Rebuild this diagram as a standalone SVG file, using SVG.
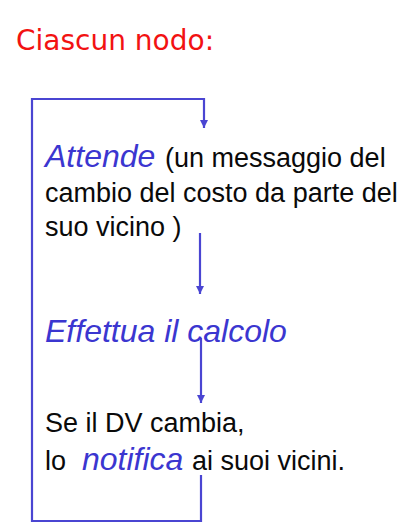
<svg xmlns="http://www.w3.org/2000/svg" width="412" height="531" viewBox="0 0 412 531">
<style>
.t{font-family:"Liberation Sans",Arial,sans-serif;font-size:27px;fill:#0a0a0a}
.em{font-style:italic;font-size:32px;fill:#3b36d0}
.title{font-family:"DejaVu Sans",sans-serif;font-size:28px;fill:#f21212}
.c{fill:none;stroke:#4a45d2;stroke-width:2.2}
</style>
<defs>
<marker id="ah" markerUnits="userSpaceOnUse" markerWidth="10" markerHeight="10" refX="8" refY="4" orient="auto">
<path d="M0,0 L8,4 L0,8 Z" fill="#4a45d2"/>
</marker>
</defs>
<rect width="412" height="531" fill="#fff"/>
<g id="title"><text class="title" x="16" y="50">Ciascun nodo:</text></g>
<g id="connectors">
<path class="c" d="M201,475 V521 H32 V99 H204 V128" marker-end="url(#ah)"/>
<path class="c" d="M200,233 V294" marker-end="url(#ah)"/>
<path class="c" d="M201,338 V403" marker-end="url(#ah)"/>
</g>
<g id="node-attende">
<text class="t" x="45" y="167"><tspan class="em">Attende</tspan><tspan x="165">(un messaggio del</tspan></text>
<text class="t" x="45" y="202">cambio del costo da parte del</text>
<text class="t" x="45" y="236">suo vicino )</text>
</g>
<g id="node-calcolo">
<text class="t em" x="45" y="342">Effettua il calcolo</text>
</g>
<g id="node-notifica">
<text class="t" x="45" y="432">Se il DV cambia,</text>
<text class="t" x="45" y="470">lo <tspan class="em" x="82">notifica</tspan><tspan x="192">ai suoi vicini.</tspan></text>
</g>
</svg>
